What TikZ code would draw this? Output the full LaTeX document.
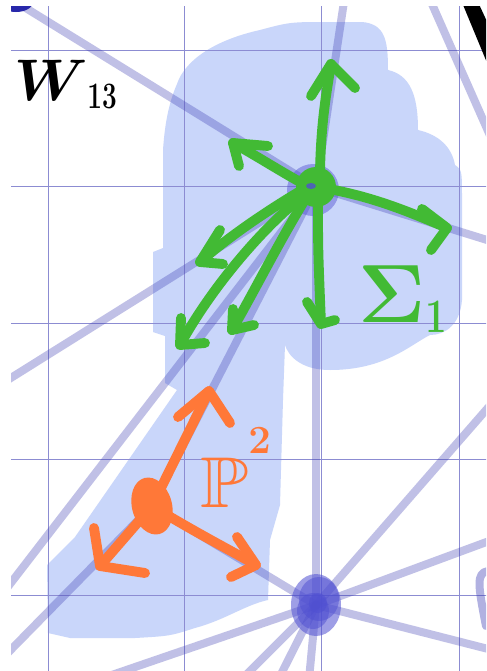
\RequirePackage{fix-cm}
\documentclass[tikz,border=0pt]{standalone}
\usepackage{amssymb}
\usepackage{bm}
\usepackage{graphicx}
\usetikzlibrary{calc}
\definecolor{blobc}{RGB}{201,214,250}
\definecolor{edgec}{RGB}{60,60,180}
\definecolor{gridc}{RGB}{140,140,210}
\definecolor{grn}{RGB}{66,186,52}
\definecolor{org}{RGB}{255,120,56}
\definecolor{nodeb}{RGB}{80,80,210}
\definecolor{darkb}{RGB}{40,40,170}
\begin{document}
\begin{tikzpicture}[x=0.75pt,y=-0.75pt,line cap=round,line join=round]
\tikzset{
  gridln/.style={draw=gridc,line width=0.6pt,line cap=butt},
  edgeln/.style={draw=edgec,draw opacity=0.32,line width=6pt,line cap=butt},
  garr/.style={draw=grn,line width=7.4pt},
  oarr/.style={draw=org,line width=7.4pt},
  lbl/.style={inner sep=0pt,outer sep=0pt}
}
\useasboundingbox[fill=white] (0,0) rectangle (486,671);
% named points
\coordinate (G) at (316,187);
\coordinate (O) at (152,506);
\coordinate (B) at (316,605);
\coordinate (TL) at (16,2);
\begin{scope}
\clip (11,6) rectangle (486,671);
% blob
\fill[blobc] (177,84) .. controls (185,60) and (215,40) .. (260,30)
  .. controls (290,22) .. (330,22) -- (362,22)
  .. controls (385,24) and (388,40) .. (388,70)
  .. controls (410,75) and (418,95) .. (418,130)
  .. controls (440,135) and (452,148) .. (455,165)
  .. controls (462,170) .. (462,200) -- (462,300)
  .. controls (460,325) and (445,335) .. (430,335)
  .. controls (410,345) and (385,370) .. (330,370)
  .. controls (300,370) and (288,355) .. (285,345)
  -- (283,400) -- (280,505) -- (270,540) -- (268,600)
  .. controls (245,605) and (225,620) .. (195,628)
  .. controls (170,636) .. (135,638) -- (70,638) -- (48,633)
  -- (47,565) -- (75,537) -- (177,390) -- (165,383) -- (165,336)
  -- (153,332) -- (153,252) -- (163,248) -- (163,150)
  .. controls (165,120) and (170,100) .. (177,84) -- cycle;
% grid
\foreach \gx in {48,184,321,459} \draw[gridln] (\gx,0) -- (\gx,680);
\foreach \gy in {50,186,323,459,595} \draw[gridln] (0,\gy) -- (490,\gy);
% edges
\coordinate (e1) at (345,-5);
\coordinate (e2) at (500,244);
\coordinate (e3) at (-10,391);
\coordinate (e4) at (-10,610);
\coordinate (e5) at (-10,671);
\coordinate (e6) at (500,394);
\coordinate (e7) at (500,537);
\coordinate (e8) at (500,652);
\coordinate (e9) at (68,690);
\coordinate (e10) at (231,690);
\coordinate (e11) at (273,690);
\coordinate (e12) at (308,690);
\coordinate (e13) at (428,-5);
\coordinate (e14) at (503,165);
\draw[edgeln] (TL) -- (G);
\draw[edgeln] (G) -- (e1);
\draw[edgeln] (G) -- (e2);
\draw[edgeln] (G) -- (e3);
\draw[edgeln] (G) -- (e4);
\draw[edgeln] (G) -- (O);
\draw[edgeln] (G) -- (B);
\draw[edgeln] (O) -- (e5);
\draw[edgeln] (O) -- (B);
\draw[edgeln] (B) -- (e6);
\draw[edgeln] (B) -- (e7);
\draw[edgeln] (B) -- (e8);
\draw[edgeln] (B) -- (e9);
\draw[edgeln] (B) -- (e10);
\draw[edgeln] (B) -- (e11);
\draw[edgeln] (B) -- (e12);
\draw[edgeln] (e13) -- (e14);
% right-edge blue stroke
\coordinate (r1) at (488,571);
\coordinate (r2) at (486,626);
\draw[draw=edgec,draw opacity=0.4,line width=6pt] (r1) .. controls (476,573) and (478,585) .. (r2);
% black stroke top right
\fill[black] (461,0) -- (477,0) -- (490,28) -- (490,70) -- cycle;
% top-left node
\fill[darkb] (TL) ellipse [x radius=17,y radius=10];
% blue node B
\fill[nodeb,opacity=0.55] (B) ellipse [x radius=25,y radius=31];
\fill[nodeb,opacity=0.5] ($(B)+(3,-6)$) ellipse [x radius=20,y radius=22];
\fill[nodeb,opacity=0.5] ($(B)+(-3,6)$) ellipse [x radius=16,y radius=18];
\fill[nodeb,opacity=0.6] ($(B)+(2,-2)$) ellipse [x radius=9,y radius=10];
% green node
\fill[nodeb,opacity=0.45] ($(G)+(-3,3)$) circle [radius=26];
\fill[grn] (G) circle [radius=20];
\fill[nodeb,opacity=0.8] ($(G)+(-5,-1)$) ellipse [x radius=5,y radius=3];
% green arrows
\coordinate (g1) at (331,64);
\draw[garr] (320,172) .. controls (321,120) and (327,90) .. (g1);
\draw[garr] (311,96) -- (g1) -- (355,88);
\coordinate (g2) at (233,143);
\draw[garr] (300,182) .. controls (275,168) and (255,155) .. (g2);
\draw[garr] (268,146) -- (g2) -- (239,166);
\coordinate (g3) at (447,228);
\draw[garr] (334,190) .. controls (375,198) and (410,212) .. (g3);
\draw[garr] (422,209) -- (g3) -- (431,250);
\coordinate (g4) at (321,324);
\draw[garr] (318,200) .. controls (318,250) .. (g4);
\draw[garr] (307,302) -- (g4) -- (335,320);
\coordinate (g5) at (200,262);
\draw[garr] (302,190) .. controls (260,215) and (225,240) .. (g5);
\draw[garr] (220,230) -- (g5) -- (223,264);
\coordinate (g6) at (180,345);
\draw[garr] (304,195) .. controls (260,230) and (210,290) .. (g6);
\draw[garr] (181,318) -- (g6) -- (205,343);
\coordinate (g7) at (232,330);
\draw[garr] (306,198) .. controls (280,240) and (255,290) .. (g7);
\draw[garr] (233,309) -- (g7) -- (254,325);
% orange node
\fill[org,rotate around={15:(O)}] (O) ellipse [x radius=20,y radius=29];
\fill[nodeb,opacity=0.7] ($(O)+(-3,4)$) ellipse [x radius=4,y radius=3];
% orange arrows
\coordinate (o1) at (209,391);
\draw[oarr] (O) -- (o1);
\draw[oarr] (178,417) -- (o1) -- (230,423);
\coordinate (o2) at (100,566);
\draw[oarr] (O) -- (o2);
\draw[oarr] (94,528) -- (o2) -- (145,573);
\coordinate (o3) at (256,565);
\draw[oarr] (O) .. controls (200,535) and (230,550) .. (o3);
\draw[oarr] (237,537) -- (o3) -- (231,577);
\end{scope}
% labels
\node[lbl,anchor=base west,text=black] (w13) at (14,100)
  {\fontsize{44}{44}\selectfont$\bm{W}$\raisebox{-6pt}{\scalebox{0.7}[1]{\fontsize{28}{28}\selectfont$\mathbf{13}$}}};
\node[lbl,anchor=base west,text=grn] (sig) at (358,322)
  {\fontsize{62}{62}\selectfont$\bm{\Sigma}$\raisebox{-7.5pt}{\scalebox{0.8}[1]{\fontsize{36}{36}\selectfont$\mathbf{1}$}}};
\node[lbl,anchor=base west,text=org] (p2) at (200,507)
  {\scalebox{1.1}[1]{\fontsize{54}{54}\selectfont$\mathbb{P}$}\raisebox{40pt}{\fontsize{30}{30}\selectfont$\mathbf{2}$}};
\end{tikzpicture}
\end{document}
